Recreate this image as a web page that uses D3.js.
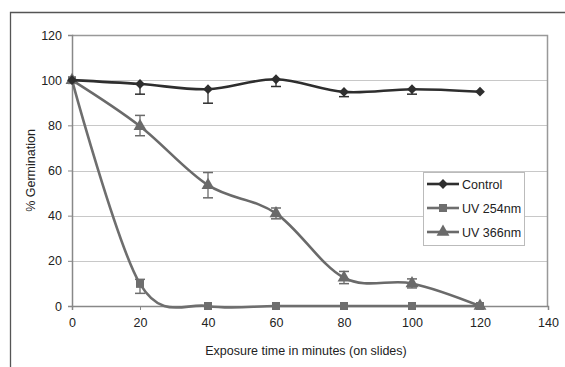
<!DOCTYPE html>
<html>
<head>
<meta charset="utf-8">
<script src="https://cdn.jsdelivr.net/npm/d3@7"></script>
<style>
  body { margin: 0; background: #fff; }
  svg { display: block; font-family: "Liberation Sans", Arial, sans-serif; }
</style>
</head>
<body>
<div id="chart"></div>
<script>
// exposure times (minutes)
const times = [0, 20, 40, 60, 80, 100, 120];

const seriesNames = ['Control', 'UV 254nm', 'UV 366nm'];

const controlValues = [100, 98.3, 96, 100.4, 94.8, 96, 94.9];
const controlErrPlus = [0, 0, 0, 0, 0, 0, 0];
const controlErrMinus = [0, 4.5, 6.2, 3.2, 2.1, 2.2, 0];

const uv254Values = [100, 9.8, 0, 0, 0, 0, 0];
const uv254ErrPlus = [0, 2, 0, 0, 0, 0, 0];
const uv254ErrMinus = [0, 4.2, 0, 0, 0, 0, 0];

const uv366Values = [100, 79.6, 53.5, 41, 12.5, 10, 0];
const uv366ErrPlus = [0, 4.8, 5.6, 2.4, 2.8, 2, 0];
const uv366ErrMinus = [0, 4.2, 5.6, 2.4, 2.6, 2, 0];

const xTicks = [0, 20, 40, 60, 80, 100, 120, 140];
const yTicks = [0, 20, 40, 60, 80, 100, 120];

const W = 565, H = 367;
const plot = {left: 72, top: 35, right: 548, bottom: 306};

const svg = d3.select('#chart').append('svg')
    .attr('width', W).attr('height', H);

const x = d3.scaleLinear().domain([0, 140]).range([plot.left, plot.right]);
const y = d3.scaleLinear().domain([0, 120]).range([plot.bottom, plot.top]);

// outer chart frame (top and left edges visible)
svg.append('path')
    .attr('d', `M10.5,${H} V12.5 H${W}`)
    .attr('fill', 'none').attr('stroke', '#555').attr('stroke-width', 1.3);

// gridlines
svg.append('g').selectAll('line')
    .data(yTicks.filter(d => d > 0))
    .enter().append('line')
        .attr('x1', plot.left).attr('x2', plot.right)
        .attr('y1', d => Math.round(y(d)) + 0.5).attr('y2', d => Math.round(y(d)) + 0.5)
        .attr('stroke', '#c8c8c8').attr('stroke-width', 1);

// plot area border (top/right)
svg.append('path')
    .attr('d', `M${plot.left},${plot.top + 0.5} H${plot.right - 0.5} V${plot.bottom}`)
    .attr('fill', 'none').attr('stroke', '#999').attr('stroke-width', 1.5);

// axes
const xAxis = svg.append('g')
    .attr('transform', `translate(0,${plot.bottom})`)
    .call(d3.axisBottom(x).tickValues(xTicks).tickSize(4).tickPadding(8));
const yAxis = svg.append('g')
    .attr('transform', `translate(${plot.left},0)`)
    .call(d3.axisLeft(y).tickValues(yTicks).tickSize(4).tickPadding(6));

[xAxis, yAxis].forEach(a => {
    a.select('.domain').attr('stroke', '#888').attr('stroke-width', 1.5);
    a.selectAll('.tick line').attr('stroke', '#888');
    a.selectAll('.tick text').attr('fill', '#222').style('font-size', '12.5px')
        .style('font-family', '"Liberation Sans", Arial, sans-serif');
});

// axis titles
svg.append('text')
    .attr('x', (plot.left + plot.right) / 2 - 4).attr('y', 355)
    .attr('text-anchor', 'middle').attr('fill', '#222').style('font-size', '12.5px')
    .text('Exposure time in minutes (on slides)');
svg.append('text')
    .attr('transform', `translate(35,${(plot.top + plot.bottom) / 2}) rotate(-90)`)
    .attr('text-anchor', 'middle').attr('fill', '#222').style('font-size', '12.5px')
    .text('% Germination');

// marker shapes: diamond is a square turned 45 degrees
const series = [
    {name: seriesNames[0], values: controlValues, plus: controlErrPlus, minus: controlErrMinus,
     color: '#2e2e2e', symbol: d3.symbolSquare, size: 48, rot: 45},
    {name: seriesNames[1], values: uv254Values, plus: uv254ErrPlus, minus: uv254ErrMinus,
     color: '#6e6e6e', symbol: d3.symbolSquare, size: 64, rot: 0},
    {name: seriesNames[2], values: uv366Values, plus: uv366ErrPlus, minus: uv366ErrMinus,
     color: '#6a6a6a', symbol: d3.symbolTriangle, size: 72, rot: 0}
];

const line = d3.line()
    .x(d => x(d.t)).y(d => y(d.v))
    .curve(d3.curveCardinal.tension(0));

// draw in reverse so Control sits on top
series.slice().reverse().forEach(s => {
    const pts = times.map((t, i) => ({t, v: s.values[i], p: s.plus[i], m: s.minus[i]}));
    const g = svg.append('g');

    g.append('path')
        .datum(pts)
        .attr('d', line)
        .attr('fill', 'none').attr('stroke', s.color).attr('stroke-width', 2.6);

    // error bars
    const eb = g.selectAll('.err')
        .data(pts.filter(d => d.p > 0 || d.m > 0))
        .enter().append('g');
    eb.append('line')
        .attr('x1', d => x(d.t)).attr('x2', d => x(d.t))
        .attr('y1', d => y(d.v + d.p)).attr('y2', d => y(d.v - d.m))
        .attr('stroke', s.color).attr('stroke-width', 1.3);
    eb.filter(d => d.p > 0).append('line')
        .attr('x1', d => x(d.t) - 5).attr('x2', d => x(d.t) + 5)
        .attr('y1', d => y(d.v + d.p)).attr('y2', d => y(d.v + d.p))
        .attr('stroke', s.color).attr('stroke-width', 1.5);
    eb.filter(d => d.m > 0).append('line')
        .attr('x1', d => x(d.t) - 5).attr('x2', d => x(d.t) + 5)
        .attr('y1', d => y(d.v - d.m)).attr('y2', d => y(d.v - d.m))
        .attr('stroke', s.color).attr('stroke-width', 1.5);

    g.selectAll('.mk')
        .data(pts)
        .enter().append('path')
            .attr('transform', d => `translate(${x(d.t)},${y(d.v)}) rotate(${s.rot})`)
            .attr('d', d3.symbol().type(s.symbol).size(s.size))
            .attr('fill', s.color);
});

// legend
const legend = svg.append('g').attr('transform', 'translate(423,172)');
legend.append('rect')
    .attr('x', 0.5).attr('y', 0.5).attr('width', 101).attr('height', 73)
    .attr('fill', '#fff').attr('stroke', '#bbb');
series.forEach((s, i) => {
    const ly = 12 + i * 24;
    legend.append('line')
        .attr('x1', 4).attr('x2', 36).attr('y1', ly).attr('y2', ly)
        .attr('stroke', s.color).attr('stroke-width', 2.6);
    legend.append('path')
        .attr('transform', `translate(20,${ly}) rotate(${s.rot})`)
        .attr('d', d3.symbol().type(s.symbol).size(s.size))
        .attr('fill', s.color);
    legend.append('text')
        .attr('x', 39).attr('y', ly + 4.5)
        .attr('fill', '#222').style('font-size', '12.5px')
        .text(s.name);
});
</script>
</body>
</html>
